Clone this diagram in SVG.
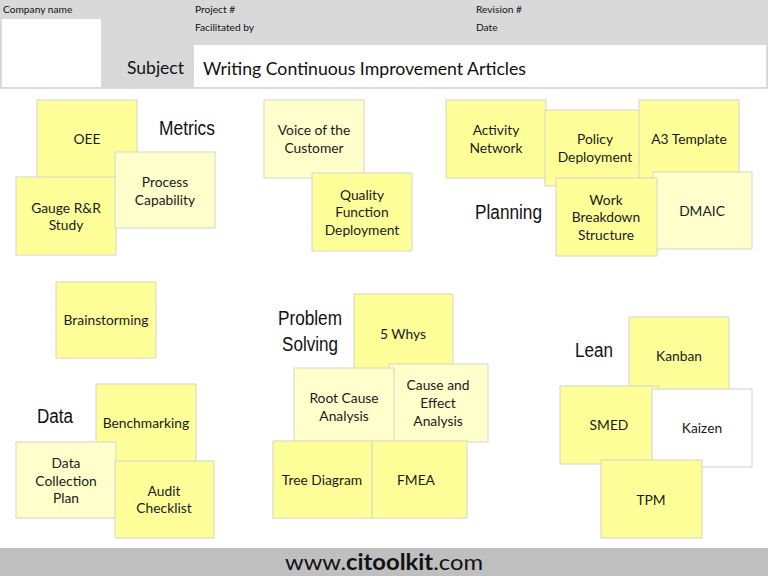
<svg xmlns="http://www.w3.org/2000/svg" width="768" height="576" viewBox="0 0 768 576">
<style>
.y{fill:#ffff99;stroke:#d6d6c8;stroke-width:1}
.l{fill:#ffffcc;stroke:#d6d6c8;stroke-width:1}
.w{fill:#ffffff;stroke:#d0d0d0;stroke-width:1}
.t{font-family:Lato,"Open Sans","Liberation Sans",sans-serif;font-size:13.8px;fill:#1a1a1a;text-anchor:middle}
.h{font-family:Lato,"Liberation Sans",sans-serif;font-size:10.2px;fill:#111}
.c{font-family:"Liberation Sans",sans-serif;font-size:20px;fill:#111}
</style>
<rect x="0" y="0" width="768" height="89" fill="#d9d9d9"/>
<rect x="2" y="19" width="99" height="68" fill="#ffffff"/>
<rect x="194" y="45" width="572" height="42" fill="#ffffff"/>
<text class="h" x="3" y="13">Company name</text>
<text class="h" x="195" y="13">Project #</text>
<text class="h" x="195" y="31">Facilitated by</text>
<text class="h" x="476" y="13">Revision #</text>
<text class="h" x="476" y="31">Date</text>
<text x="184" y="74" font-family="Lato,'Liberation Sans',sans-serif" font-size="17.5" fill="#111" text-anchor="end">Subject</text>
<text x="203" y="75" font-family="Lato,'Liberation Sans',sans-serif" font-size="17.7" fill="#111">Writing Continuous Improvement Articles</text>
<rect x="0" y="548" width="768" height="28" fill="#bfbfbf"/>
<text x="384" y="570" font-family="Lato,'Liberation Sans',sans-serif" font-size="22" fill="#111" text-anchor="middle" textLength="198" lengthAdjust="spacingAndGlyphs">www.<tspan font-weight="bold">citoolkit</tspan>.com</text>

<g id="labels">
<text class="c" x="159" y="135" textLength="56" lengthAdjust="spacingAndGlyphs">Metrics</text>
<text class="c" x="475" y="219" textLength="67" lengthAdjust="spacingAndGlyphs">Planning</text>
<text class="c" x="37" y="423" textLength="36" lengthAdjust="spacingAndGlyphs">Data</text>
<text class="c" x="278" y="325" textLength="64" lengthAdjust="spacingAndGlyphs">Problem</text>
<text class="c" x="282" y="351" textLength="56" lengthAdjust="spacingAndGlyphs">Solving</text>
<text class="c" x="575" y="357" textLength="38" lengthAdjust="spacingAndGlyphs">Lean</text>
</g>

<g id="oee"><rect class="y" x="37" y="100" width="100" height="78"/><text class="t" x="87" y="144">OEE</text></g>
<g id="gauge"><rect class="y" x="16" y="177" width="100" height="78"/><text class="t" x="66" y="213">Gauge R&amp;R</text><text class="t" x="66" y="230">Study</text></g>
<g id="process"><rect class="l" x="115" y="152" width="100" height="76"/><text class="t" x="165" y="187">Process</text><text class="t" x="165" y="205">Capability</text></g>

<g id="voc"><rect class="l" x="264" y="100" width="100" height="78"/><text class="t" x="314" y="135">Voice of the</text><text class="t" x="314" y="153">Customer</text></g>
<g id="qfd"><rect class="y" x="312" y="173" width="100" height="78"/><text class="t" x="362" y="200">Quality</text><text class="t" x="362" y="217">Function</text><text class="t" x="362" y="235">Deployment</text></g>

<g id="activity"><rect class="y" x="446" y="100" width="100" height="78"/><text class="t" x="496" y="135">Activity</text><text class="t" x="496" y="153">Network</text></g>
<g id="policy"><rect class="y" x="545" y="110" width="100" height="76"/><text class="t" x="595" y="144">Policy</text><text class="t" x="595" y="162">Deployment</text></g>
<g id="a3"><rect class="y" x="639" y="100" width="100" height="78"/><text class="t" x="689" y="144">A3 Template</text></g>
<g id="dmaic"><rect class="l" x="653" y="172" width="99" height="77"/><text class="t" x="702" y="216">DMAIC</text></g>
<g id="wbs"><rect class="y" x="556" y="178" width="101" height="78"/><text class="t" x="606" y="205">Work</text><text class="t" x="606" y="222">Breakdown</text><text class="t" x="606" y="240">Structure</text></g>

<g id="brainstorming"><rect class="y" x="56" y="282" width="100" height="76"/><text class="t" x="106" y="325">Brainstorming</text></g>
<g id="benchmarking"><rect class="y" x="96" y="384" width="100" height="78"/><text class="t" x="146" y="428">Benchmarking</text></g>
<g id="dcp"><rect class="l" x="16" y="442" width="100" height="76"/><text class="t" x="66" y="468">Data</text><text class="t" x="66" y="486">Collection</text><text class="t" x="66" y="503">Plan</text></g>
<g id="audit"><rect class="y" x="115" y="461" width="99" height="77"/><text class="t" x="164" y="496">Audit</text><text class="t" x="164" y="513">Checklist</text></g>

<g id="whys"><rect class="y" x="354" y="294" width="99" height="78"/><text class="t" x="403" y="339">5 Whys</text></g>
<g id="cause"><rect class="l" x="389" y="364" width="99" height="78"/><text class="t" x="438" y="390">Cause and</text><text class="t" x="438" y="408">Effect</text><text class="t" x="438" y="426">Analysis</text></g>
<g id="rca"><rect class="l" x="294" y="368" width="100" height="77"/><text class="t" x="344" y="403">Root Cause</text><text class="t" x="344" y="421">Analysis</text></g>
<g id="tree"><rect class="y" x="273" y="441" width="99" height="77"/><text class="t" x="322" y="485">Tree Diagram</text></g>
<g id="fmea"><rect class="y" x="372" y="441" width="95" height="77"/><text class="t" x="416" y="485">FMEA</text></g>

<g id="kanban"><rect class="y" x="629" y="317" width="100" height="78"/><text class="t" x="679" y="361">Kanban</text></g>
<g id="smed"><rect class="y" x="560" y="386" width="99" height="78"/><text class="t" x="609" y="430">SMED</text></g>
<g id="kaizen"><rect class="w" x="652" y="389" width="100" height="78"/><text class="t" x="702" y="433">Kaizen</text></g>
<g id="tpm"><rect class="y" x="601" y="460" width="101" height="78"/><text class="t" x="651" y="505">TPM</text></g>
</svg>
